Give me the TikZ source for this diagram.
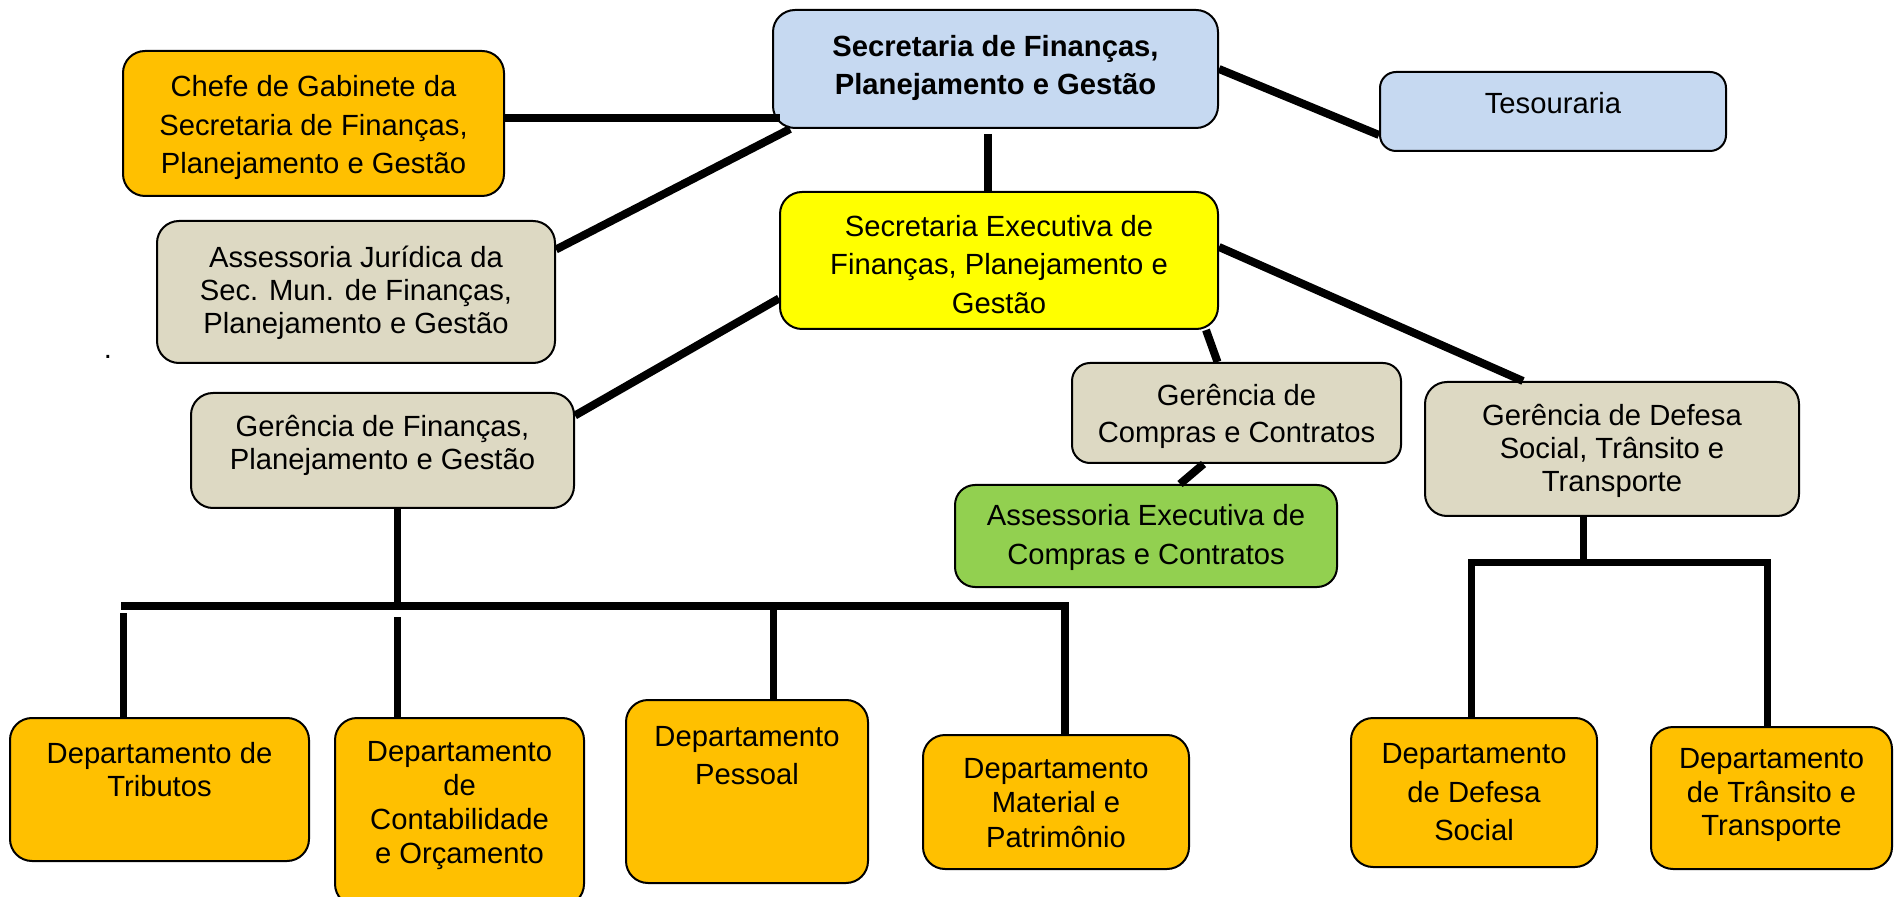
\documentclass[tikz,border=0pt]{standalone}
\usepackage{fontspec}
\setmainfont{Liberation Sans}
\usetikzlibrary{calc}
\definecolor{cblue}{HTML}{C6D9F1}
\definecolor{corange}{HTML}{FFC000}
\definecolor{cbeige}{HTML}{DDD9C3}
\definecolor{cyell}{HTML}{FFFF00}
\definecolor{cgreen}{HTML}{92D050}
\newcommand\orgbox[7][11pt]{%
  \node[box, rounded corners=#1, fill=#7,
        minimum width={(#5-#3)*0.5pt}, minimum height={(#6-#4)*0.5pt}]
        (#2) at ({(#3+#5)/2},{(#4+#6)/2}) {};}
\begin{document}
\begin{tikzpicture}[x=0.5pt,y=-0.5pt,
  box/.style={draw=black, line width=1pt, inner sep=0pt},
  txt/.style={align=center, inner sep=0pt, text=black, font=\fontsize{14.6pt}{#1}\selectfont},
  txt/.default=16.5pt,
  conn/.style={line width=4pt},
  tree/.style={line width=3.5pt}]

\useasboundingbox (0,0) rectangle (1894,897);

% boxes
\orgbox{sec}{773}{10}{1218}{128}{cblue}
\orgbox{chefe}{123}{51}{504}{196}{corange}
\orgbox[8pt]{tes}{1380}{72}{1726}{151}{cblue}
\orgbox{jur}{157}{221}{555}{363}{cbeige}
\orgbox{exec}{780}{192}{1218}{329}{cyell}
\orgbox{finG}{191}{393}{574}{508}{cbeige}
\orgbox[9pt]{comp}{1072}{363}{1401}{463}{cbeige}
\orgbox{defG}{1425}{382}{1799}{516}{cbeige}
\orgbox[10pt]{assx}{955}{485}{1337}{587}{cgreen}
\orgbox{trib}{10}{718}{309}{861}{corange}
\orgbox{contab}{335}{718}{584}{906}{corange}
\orgbox{pess}{626}{700}{868}{883}{corange}
\orgbox{mat}{923}{735}{1189}{869}{corange}
\orgbox{defS}{1351}{718}{1597}{867}{corange}
\orgbox{trans}{1651}{727}{1892}{869}{corange}

% texts
\node[txt=19.25pt] (sec-t) at (995.5,68) {\bfseries Secretaria de Finanças,\\\bfseries Planejamento e Gestão};
\node[txt=19.25pt] (chefe-t) at (313.5,127.5) {Chefe de Gabinete da\\Secretaria de Finanças,\\Planejamento e Gestão};
\node[txt] (tes-t) at (1553,103) {Tesouraria};
\node[txt] (jur-t) at (356,293) {Assessoria Jurídica da\\Sec. Mun. de Finanças,\\Planejamento e Gestão};
\node[txt=19.25pt] (exec-t) at (999,264.5) {Secretaria Executiva de\\Finanças, Planejamento e\\Gestão};
\node[txt] (finG-t) at (382.5,445) {Gerência de Finanças,\\Planejamento e Gestão};
\node[txt=18.5pt] (comp-t) at (1236.5,416.5) {Gerência de\\Compras e Contratos};
\node[txt] (defG-t) at (1612,451) {Gerência de Defesa\\Social, Trânsito e\\Transporte};
\node[txt=19.5pt] (assx-t) at (1146,537) {Assessoria Executiva de\\Compras e Contratos};
\node[txt] (trib-t) at (159.5,769.5) {Departamento de\\Tributos};
\node[txt=17pt] (contab-t) at (459.5,806) {Departamento\\de\\Contabilidade\\e Orçamento};
\node[txt=19pt] (pess-t) at (747,756) {Departamento\\Pessoal};
\node[txt=17.25pt] (mat-t) at (1056,803) {Departamento\\Material e\\Patrimônio};
\node[txt=19.25pt] (defS-t) at (1474,792.5) {Departamento\\de Defesa\\Social};
\node[txt=16.75pt] (trans-t) at (1771.5,795) {Departamento\\de Trânsito e\\Transporte};
\node[txt] (dot) at (108,357) {.};

% connectors
\draw[conn] ([yshift=2.75pt]chefe.east) -- ([xshift=4pt,yshift=2.75pt]chefe.east -| sec.west);
\draw[conn] (jur.12) -- ([xshift=9pt]sec.south west);
\draw[conn] ([xshift=-3.75pt,yshift=-2.5pt]sec.south) -- ([xshift=-3.75pt]sec.south |- exec.north);
\draw[conn] (sec.east) -- ([yshift=-11.75pt]tes.west);
\draw[conn] ([yshift=-19pt]exec.west) -- ([yshift=17.5pt]finG.east);
\draw[conn] ([xshift=-6.5pt]exec.south east) -- ([xshift=-9.5pt]comp.north);
\draw[conn] ([yshift=6.75pt]exec.east) -- ([xshift=-44.5pt]defG.north);
\draw[conn] ([xshift=-16.5pt]comp.south) -- ([xshift=17pt]assx.north);

% finance tree
\coordinate (fj) at (397,610);
\coordinate (fbl) at (121,605.5);
\coordinate (fbr) at (1065,605.5);
\coordinate (d1) at (123.5,613);
\coordinate (d2) at (397,617);
\coordinate (d3) at (773,605.5);
\draw[tree] (fj |- finG.south) -- (fj);
\draw[conn] (fbl) -- (fbr) -- (fbr |- mat.north);
\draw[tree] (d1) -- (d1 |- trib.north);
\draw[tree] (d2) -- (d2 |- contab.north);
\draw[tree] (d3) -- (d3 |- pess.north);

% defence tree
\coordinate (dj) at (1583,562);
\coordinate (dbl) at (1471,562);
\coordinate (dbr) at (1767,562);
\draw[tree] (dj |- defG.south) -- (dj);
\draw[tree] (dbl |- defS.north) -- (dbl) -- (dbr) -- (dbr |- trans.north);
\end{tikzpicture}
\end{document}
